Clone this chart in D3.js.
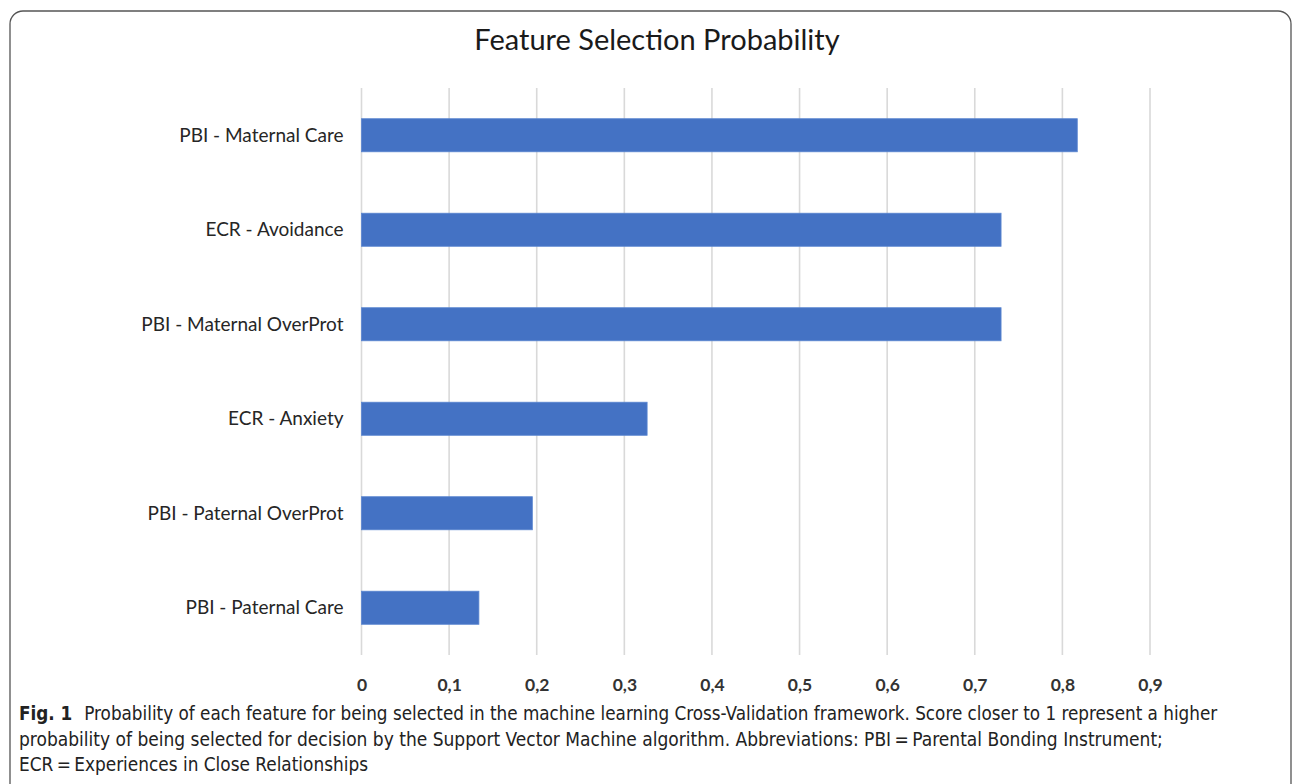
<!DOCTYPE html>
<html>
<head>
<meta charset="utf-8">
<script src="https://cdn.jsdelivr.net/npm/d3@7"></script>
<style>
  html, body { margin: 0; padding: 0; background: #fff; }
  svg { display: block; }
</style>
</head>
<body>
<svg id="chart" width="1293" height="784"></svg>
<script>
// Feature names, top to bottom
const features = [
  "PBI - Maternal Care",
  "ECR - Avoidance",
  "PBI - Maternal OverProt",
  "ECR - Anxiety",
  "PBI - Paternal OverProt",
  "PBI - Paternal Care"
];
// Selection probability of each feature
const probabilities = [0.817, 0.730, 0.730, 0.326, 0.195, 0.134];
// Axis ticks
const tickValues = [0, 0.1, 0.2, 0.3, 0.4, 0.5, 0.6, 0.7, 0.8, 0.9];
const tickLabels = ["0", "0,1", "0,2", "0,3", "0,4", "0,5", "0,6", "0,7", "0,8", "0,9"];

const chartTitle = "Feature Selection Probability";
const captionLines = [
  ["Fig. 1", "Probability of each feature for being selected in the machine learning Cross-Validation framework. Score closer to 1 represent a higher"],
  ["", "probability of being selected for decision by the Support Vector Machine algorithm. Abbreviations: PBI\u2009=\u2009Parental Bonding Instrument;"],
  ["", "ECR\u2009=\u2009Experiences in Close Relationships"]
];

const svg = d3.select("#chart");

// frame around figure
svg.append("rect")
  .attr("x", 10).attr("y", 11)
  .attr("width", 1281).attr("height", 820)
  .attr("rx", 13).attr("ry", 13)
  .attr("fill", "none")
  .attr("stroke", "#555")
  .attr("stroke-width", 1.3);

const plot = { left: 361.5, right: 1150, top: 88, bottom: 655 };

const x = d3.scaleLinear().domain([0, 0.9]).range([plot.left, plot.right]);
const y = d3.scaleBand().domain(features).range([plot.top, plot.bottom]).paddingInner(0.65).paddingOuter(0.325);

const fontMain = "Lato, 'Open Sans', sans-serif";

// title
svg.append("text")
  .attr("x", 657).attr("y", 50)
  .attr("text-anchor", "middle")
  .attr("font-family", fontMain)
  .attr("font-size", 29)
  .attr("fill", "#1a1a1a")
  .text(chartTitle);

// vertical gridlines
svg.append("g")
  .selectAll("line")
  .data(tickValues)
  .join("line")
  .attr("x1", d => x(d)).attr("x2", d => x(d))
  .attr("y1", plot.top).attr("y2", plot.bottom)
  .attr("stroke", "#d9d9d9")
  .attr("stroke-width", 1.6);

// bars
svg.append("g")
  .selectAll("rect")
  .data(features.map((f, i) => ({ f, v: probabilities[i] })))
  .join("rect")
  .attr("x", x(0))
  .attr("y", d => y(d.f))
  .attr("width", d => x(d.v) - x(0))
  .attr("height", y.bandwidth())
  .attr("fill", "#4472c4")
  .attr("stroke", "#5b86d0")
  .attr("stroke-width", 0.8);

// category axis (labels only)
const yAxis = svg.append("g")
  .attr("transform", `translate(${plot.left - 18},0)`)
  .call(d3.axisLeft(y).tickSize(0).tickPadding(0));
yAxis.select(".domain").remove();
yAxis.selectAll("text")
  .attr("font-family", fontMain)
  .attr("font-size", 19)
  .attr("fill", "#262626")
  .attr("dy", "0.35em");

// value axis (labels only)
const xAxis = svg.append("g")
  .attr("transform", `translate(0,${plot.bottom})`)
  .call(d3.axisBottom(x).tickValues(tickValues).tickFormat((d, i) => tickLabels[i]).tickSize(0).tickPadding(0));
xAxis.select(".domain").remove();
xAxis.selectAll("text")
  .attr("font-family", fontMain)
  .attr("font-size", 17.5)
  .attr("font-weight", 700)
  .attr("fill", "#333")
  .attr("y", 30)
  .attr("dy", "0.35em");

// caption: each line sized so it ends at its wrap point
const capFont = "'DejaVu Sans Condensed', 'Open Sans', sans-serif";
const capEnds = [1219, 1163, 368];
const baselines = [720, 745.5, 771];
const capLeft = 19;
const figGap = 12;
captionLines.forEach((ln, i) => {
  const t = svg.append("text")
    .attr("x", capLeft).attr("y", baselines[i])
    .attr("font-family", capFont)
    .attr("font-size", 20)
    .attr("fill", "#222");
  let extra = 0;
  if (ln[0]) {
    t.append("tspan").attr("font-weight", 700).text(ln[0]);
    t.append("tspan").attr("dx", figGap).text(ln[1]);
    extra = figGap;
  } else {
    t.text(ln[1]);
  }
  const w = t.node().getBBox().width;
  const fs = Math.min(20.5, 20 * (capEnds[i] - capLeft - extra) / Math.max(1, w - extra));
  t.attr("font-size", fs.toFixed(2));
});
</script>
</body>
</html>
